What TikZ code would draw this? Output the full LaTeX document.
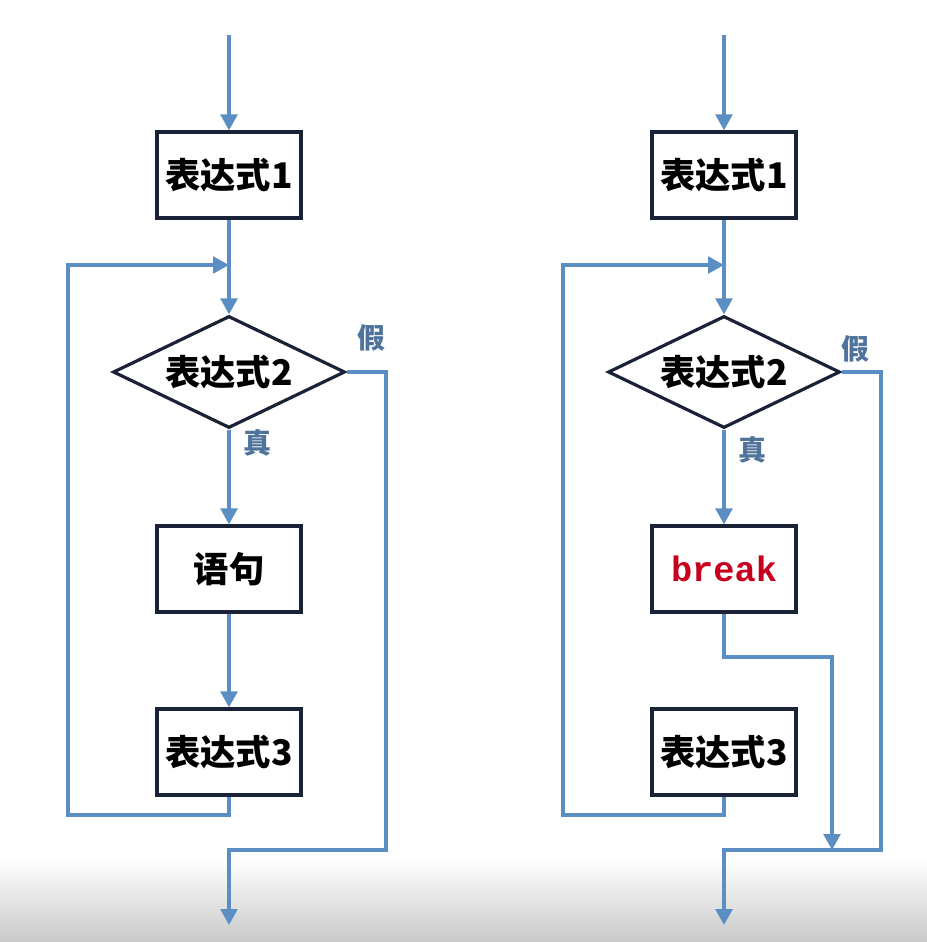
\documentclass[tikz,border=0pt]{standalone}
\usepackage{fontspec}
\newfontfamily\cjk{Noto Sans CJK SC}
\newfontfamily\codefont{Liberation Mono}
\usetikzlibrary{shapes.geometric,arrows.meta}
\definecolor{flow}{HTML}{5B8FC4}
\definecolor{boxline}{HTML}{1A2238}
\definecolor{lbl}{HTML}{4F739A}
\definecolor{brk}{HTML}{C8001E}
\tikzset{
  procbox/.style={draw=boxline, line width=2.4pt, fill=white, minimum width=108pt, minimum height=64.5pt, inner sep=0pt, font=\cjk\bfseries\fontsize{26.5}{30}\selectfont},
  decide/.style={diamond, aspect=2.07, draw=boxline, line width=2.4pt, fill=white, minimum width=174pt, minimum height=84pt, inner sep=0pt, font=\cjk\bfseries\fontsize{26.5}{30}\selectfont},
  tflabel/.style={text=lbl, font=\cjk\bfseries\fontsize{21}{24}\selectfont, inner sep=0pt},
  flowline/.style={draw=flow, line width=2.7pt},
  arr/.style={flowline, -{Triangle[width=12.5pt,length=12pt]}}
}
\begin{document}
\begin{tikzpicture}[x=0.75pt,y=-0.75pt]
\useasboundingbox (0,0) rectangle (927,942);
\fill[white] (0,0) rectangle (927,942);
\shade[top color=white, bottom color=black!21] (0,858) rectangle (927,942);

% ---------- left flowchart ----------
\coordinate (Ltop) at (229,35);
\node[procbox] (L1) at (229,175) {表达式1};
\node[decide] (L2) at (229,372) {表达式2};
\node[procbox] (L3) at (229,569) {语句};
\node[procbox] (L4) at (229,752) {表达式3};
\node[tflabel] (Lf) at (371,338) {假};
\node[tflabel] (Lt) at (257,443) {真};
\coordinate (Ljoin) at (229,265);
\coordinate (Lloop) at (68,815);
\coordinate (Lright) at (386,850);
\coordinate (Lend) at (229,925);

\draw[arr] (Ltop) -- (L1.north);
\draw[arr] (L1.south) -- (L2.north);
\draw[arr] (L2.south) -- (L3.north);
\draw[arr] (L3.south) -- (L4.north);
\draw[arr] (L4.south) |- (Lloop) |- (Ljoin);
\draw[arr] (L2.east) -| (Lright) -| (Lend);

% ---------- right flowchart ----------
\coordinate (Rtop) at (724,35);
\node[procbox] (R1) at (724,175) {表达式1};
\node[decide] (R2) at (724,372) {表达式2};
\node[procbox, font=\codefont\bfseries\fontsize{26.5}{30}\selectfont, text=brk] (R3) at (724,569) {break};
\node[procbox] (R4) at (724,752) {表达式3};
\node[tflabel] (Rf) at (855,349) {假};
\node[tflabel] (Rt) at (752,450) {真};
\coordinate (Rjoin) at (724,265);
\coordinate (Rloop) at (563,815);
\coordinate (Rbreak) at (832,657);
\coordinate (Rmerge) at (832,850);
\coordinate (Rright) at (881,850);
\coordinate (Rend) at (724,925);

\draw[arr] (Rtop) -- (R1.north);
\draw[arr] (R1.south) -- (R2.north);
\draw[arr] (R2.south) -- (R3.north);
\draw[arr] (R3.south) |- (Rbreak) -- (Rmerge);
\draw[arr] (R4.south) |- (Rloop) |- (Rjoin);
\draw[arr] (R2.east) -| (Rright) -| (Rend);
\end{tikzpicture}
\end{document}
